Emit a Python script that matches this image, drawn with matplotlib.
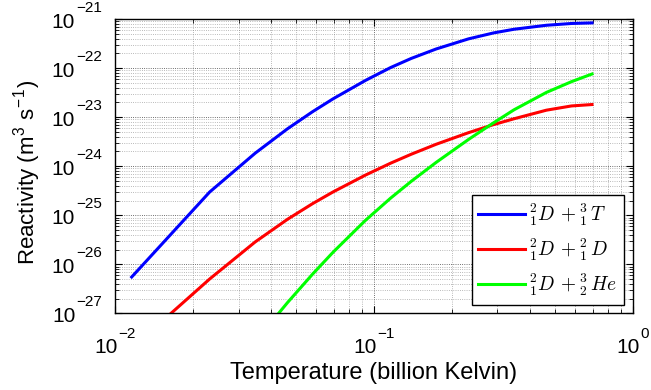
import numpy as np
import matplotlib
matplotlib.use("Agg")
import matplotlib.pyplot as plt
from matplotlib.ticker import LogLocator
from matplotlib.transforms import IdentityTransform

plt.rcParams['font.family'] = ['Liberation Sans', 'DejaVu Sans']
plt.rcParams['mathtext.fontset'] = 'cm'

# temperature in billion Kelvin (1 ... 60 keV), reactivity in m^3/s
T = [0.01160, 0.02321, 0.03481, 0.04642, 0.05802, 0.06963, 0.09284, 0.1160,
     0.1393, 0.1741, 0.2321, 0.2901, 0.3481, 0.4642, 0.5802, 0.6963]

sv_dt = [5.5e-27, 2.98e-25, 1.85e-24, 5.83e-24, 1.30e-23, 2.38e-23, 5.64e-23, 1.03e-22,
         1.58e-22, 2.47e-22, 3.97e-22, 5.25e-22, 6.24e-22, 7.52e-22, 8.18e-22, 8.41e-22]

sv_dd = [1.93e-28, 5.01e-27, 2.86e-26, 8.30e-26, 1.73e-25, 3.00e-25, 6.61e-25, 1.153e-24,
         1.754e-24, 2.81e-24, 4.84e-24, 7.08e-24, 9.31e-24, 1.393e-23, 1.70e-23, 1.816e-23]

T_dhe = T[2:]
sv_dhe = [2.64e-28, 1.66e-27, 6.32e-27, 1.77e-26, 7.89e-26, 2.23e-25,
          4.9e-25, 1.2e-24, 3.52e-24, 7.7e-24, 1.42e-23, 3.21e-23, 5.32e-23, 7.62e-23]

labels = [r'${}^{2}_{1}D\,+^{3}_{1}\,T$', r'${}^{2}_{1}D\,+^{2}_{1}\,D$', r'${}^{2}_{1}D\,+^{3}_{2}\,He$']
x_exps = [-2, -1, 0]
y_exps = [-27, -26, -25, -24, -23, -22, -21]

fig = plt.figure(figsize=(6.51, 3.9), dpi=100)
ax = fig.add_axes([115 / 651, 1 - 313.3 / 390, 517.7 / 651, 294.1 / 390])

ax.loglog(T, sv_dt, color=(0, 0, 1), lw=2.2, label=labels[0])
ax.loglog(T, sv_dd, color=(1, 0, 0), lw=2.2, label=labels[1])
ax.loglog(T_dhe, sv_dhe, color=(0, 1, 0), lw=2.2, label=labels[2])

ax.set_xlim(1e-2, 1e0)
ax.set_ylim(1e-27, 1e-21)
ax.xaxis.set_major_locator(LogLocator(base=10, numticks=10))
ax.yaxis.set_major_locator(LogLocator(base=10, numticks=10))
ax.xaxis.set_minor_locator(LogLocator(base=10, subs=np.arange(2, 10), numticks=20))
ax.yaxis.set_minor_locator(LogLocator(base=10, subs=np.arange(2, 10), numticks=20))

ax.grid(True, which='major', linestyle=':', linewidth=0.6, color='k', alpha=0.75)
ax.grid(True, which='minor', linestyle=':', linewidth=0.6, color='0.4', alpha=0.6)
ax.tick_params(which='both', direction='in', top=True, right=True,
               labelbottom=False, labelleft=False)
ax.tick_params(which='major', length=5, width=0.8)
ax.tick_params(which='minor', length=3, width=0.6)
for s in ax.spines.values():
    s.set_linewidth(1.0)

leg = ax.legend(loc='lower right', fontsize=14, fancybox=False, framealpha=1,
                edgecolor='k', handlelength=2.4, handletextpad=0.2,
                borderaxespad=0.45, labelspacing=0.45, borderpad=0.35)
leg.get_frame().set_linewidth(1.0)

# tick labels drawn as "10" with a small exponent, like the original
fig.canvas.draw()
r = fig.canvas.get_renderer()
px = IdentityTransform()
x0, y0 = ax.transAxes.transform((0, 0))

def exp_str(e):
    return ('\u2212%d' % -e) if e < 0 else str(e)

for e in y_exps:
    yd = ax.transData.transform((0.1, 10.0 ** e))[1]
    te = fig.text(x0 - 13, yd + 7, exp_str(e), fontsize=11, ha='right',
                  va='baseline', transform=px)
    w = te.get_window_extent(r).width
    fig.text(x0 - 13 - w - 1, yd - 9, '10', fontsize=15, ha='right',
             va='baseline', transform=px)

for e in x_exps:
    xd = ax.transData.transform((10.0 ** e, 1e-24))[0]
    tb = fig.text(0, y0 - 40, '10', fontsize=15, ha='left', va='baseline', transform=px)
    te = fig.text(0, y0 - 25, exp_str(e), fontsize=11, ha='left', va='baseline', transform=px)
    wb = tb.get_window_extent(r).width
    we = te.get_window_extent(r).width
    left = min(xd - (wb + 1 + we) / 2, 651 - wb - 1 - we)
    tb.set_x(left)
    te.set_x(left + wb + 1)

fig.text(374 / 651, 11 / 390, 'Temperature (billion Kelvin)', fontsize=17,
         ha='center', va='baseline')
fig.text(28 / 651, 1 - 172 / 390,
         r'Reactivity (m$^{\mathdefault{3}}$ s$^{\mathdefault{-1}}$)',
         fontsize=16, rotation=90, ha='center', va='center')

fig.savefig('out.png', dpi=100)
